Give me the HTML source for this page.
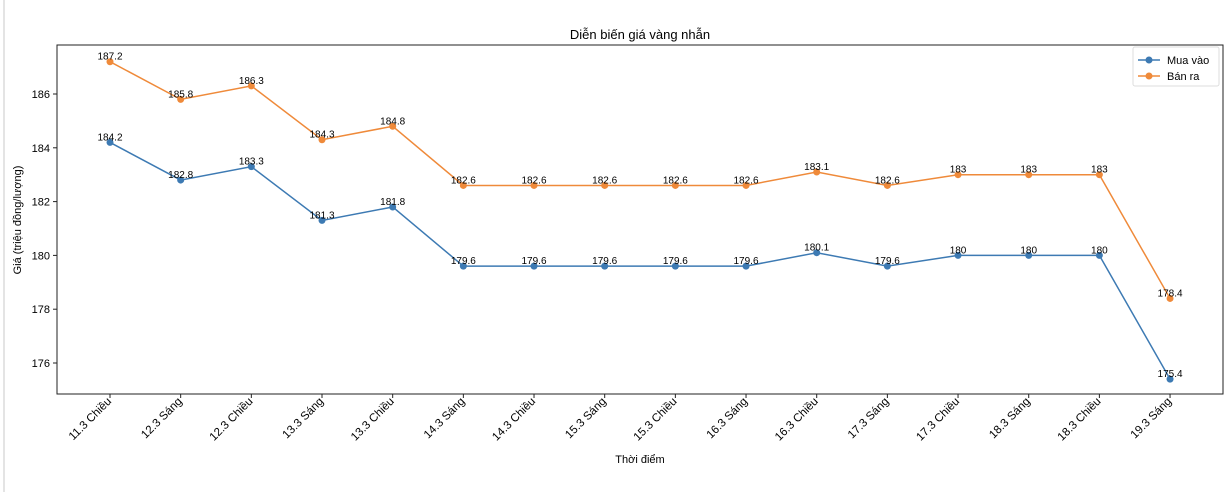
<!DOCTYPE html>
<html><head><meta charset="utf-8"><style>body{margin:0;background:#fff}svg{display:block;font-family:"Liberation Sans","DejaVu Sans",sans-serif}</style></head><body>
<svg width="1230" height="492" xmlns="http://www.w3.org/2000/svg">
<rect x="3" y="0" width="2" height="492" fill="#e4e4e4"/>
<text x="640" y="39" font-size="13" text-anchor="middle">Diễn biến giá vàng nhẫn</text>
<rect x="57" y="45" width="1166" height="349" fill="none" stroke="#222" stroke-width="1"/>
<g id="y" font-size="11" text-anchor="end"></g>
<g id="x" font-size="11.5"></g>
<text x="640" y="463" font-size="11" text-anchor="middle">Thời điểm</text>
<text transform="translate(21,220) rotate(-90)" font-size="11" text-anchor="middle">Giá (triệu đồng/lượng)</text>
<g id="d"></g>
<rect x="1133" y="47" width="86" height="39" fill="#fff" stroke="#ddd" rx="2"/>
<line x1="1138" y1="60" x2="1160" y2="60" stroke="#3d7ab3" stroke-width="1.5"/><circle cx="1149" cy="60" r="3.5" fill="#3d7ab3"/>
<text x="1167" y="64" font-size="11">Mua vào</text>
<line x1="1138" y1="76" x2="1160" y2="76" stroke="#ef8a3a" stroke-width="1.5"/><circle cx="1149" cy="76" r="3.5" fill="#ef8a3a"/>
<text x="1167" y="80" font-size="11">Bán ra</text>
</svg>
<script>
const ns="http://www.w3.org/2000/svg";
const Y=v=>94+(186-v)*26.9, X=i=>110+i*70.67;
const lab=["11.3 Chiều","12.3 Sáng","12.3 Chiều","13.3 Sáng","13.3 Chiều","14.3 Sáng","14.3 Chiều","15.3 Sáng","15.3 Chiều","16.3 Sáng","16.3 Chiều","17.3 Sáng","17.3 Chiều","18.3 Sáng","18.3 Chiều","19.3 Sáng"];
const buy=[184.2,182.8,183.3,181.3,181.8,179.6,179.6,179.6,179.6,179.6,180.1,179.6,180,180,180,175.4];
const sell=[187.2,185.8,186.3,184.3,184.8,182.6,182.6,182.6,182.6,182.6,183.1,182.6,183,183,183,178.4];
let h="";
for(let v=176;v<=186;v+=2){const y=Y(v);h+=`<line x1="53" y1="${y}" x2="57" y2="${y}" stroke="#222"/><text x="50" y="${y+4}">${v}</text>`;}
document.getElementById("y").innerHTML=h;h="";
lab.forEach((l,i)=>{const x=X(i);h+=`<line x1="${x}" y1="394" x2="${x}" y2="398" stroke="#222"/><text transform="translate(${x+2},402) rotate(-45)" text-anchor="end">${l}</text>`;});
document.getElementById("x").innerHTML=h;h="";
[[buy,"#3d7ab3"],[sell,"#ef8a3a"]].forEach(([d,c])=>{
h+=`<polyline fill="none" stroke="${c}" stroke-width="1.5" points="${d.map((v,i)=>X(i)+","+Y(v)).join(" ")}"/>`;
d.forEach((v,i)=>{h+=`<circle cx="${X(i)}" cy="${Y(v)}" r="3.5" fill="${c}"/><text x="${X(i)}" y="${Y(v)-2}" font-size="10" text-anchor="middle">${v}</text>`;});});
document.getElementById("d").innerHTML=h;
</script>
</body></html>
